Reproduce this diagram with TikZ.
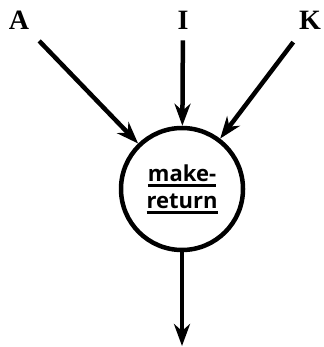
\documentclass[tikz,border=0pt]{standalone}
\usepackage{fontspec}
\setmainfont{Liberation Serif}
\newfontfamily\procfont{Open Sans}
\usetikzlibrary{positioning,arrows.meta}
\newcommand{\ulthick}[1]{\leavevmode\vtop{\hbox{#1}\kern2.5pt\hrule height 2.6pt}}

\begin{document}
\begin{tikzpicture}[x=1pt, y=-1pt,
    >={Stealth[length=22pt, width=16pt, inset=7pt]},
    every node/.style={align=center},
    proc/.style={draw, circle, line width=4.5pt, minimum size=122pt, inner sep=0pt,
                 font=\procfont\bfseries\fontsize{22}{31}\selectfont},
    inp/.style={inner sep=0pt, font=\bfseries\fontsize{28}{30}\selectfont},
    flow/.style={->, line width=4.5pt, shorten <=16pt}]
  \useasboundingbox (0,0) rectangle (323,347);
  \node[proc] (mkret) at (182,189) {\ulthick{make-}\\[-4pt]\ulthick{return}};
  \node[inp] (a) at (19,20) {A};
  \node[inp] (i) at (183,20) {I};
  \node[inp] (k) at (310,20) {K};
  \coordinate (out) at (182,346);
  \draw[flow] (a) -- (mkret);
  \draw[flow, shorten <=11pt] (i) -- (mkret);
  \draw[flow] (k) -- (mkret);
  \draw[flow, shorten <=0pt] (mkret) -- (out);
\end{tikzpicture}
\end{document}
